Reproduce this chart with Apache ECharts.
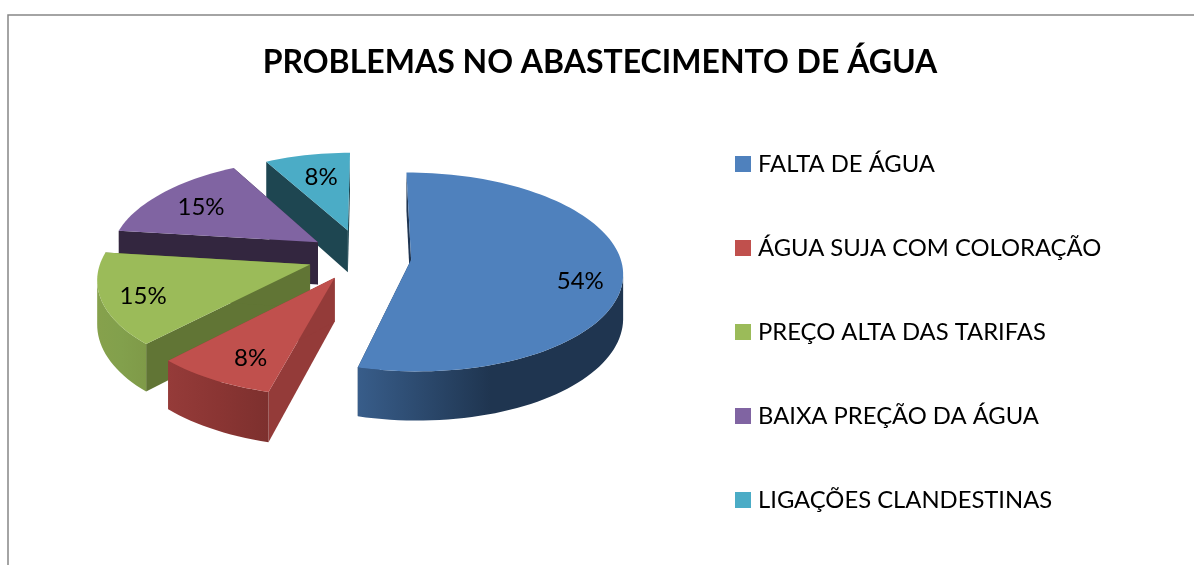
<!DOCTYPE html>
<html>
<head>
<meta charset="utf-8">
<script src="https://cdn.jsdelivr.net/npm/echarts@6/dist/echarts.min.js"></script>
<style>html,body{margin:0;background:#fff}#main{width:1194px;height:565px}</style>
</head>
<body>
<div id="main"></div>
<script>
const categories = ['FALTA DE ÁGUA', 'ÁGUA SUJA COM COLORAÇÃO', 'PREÇO ALTA DAS TARIFAS', 'BAIXA PREÇÃO DA ÁGUA', 'LIGAÇÕES CLANDESTINAS'];
const values = [54, 8, 15, 15, 8];
const topColors = ['#4F81BD', '#C0504D', '#9BBB59', '#8064A2', '#4BACC6'];
const cutColors = ['#1F3552', '#943B39', '#617535', '#33263F', '#1E4651'];
const wallStops = [['#385D8A', '#1F3550', '#1F3550'], ['#953B39', '#8A3533', '#7D302E'], ['#86A14C', '#82A04C', '#7F9A48'], ['#3E304F', '#3E304F', '#3E304F'], ['#256575', '#256575', '#256575']];

// Layout of the fake 3D pie: perspective matrix, then a small correction for each slice
const persp = [208.03, -44.86, 359.71, -0.41, 65.90, 257.25, -0.00136, -0.12163];
const explode = 0.25;
const sliceShift = [[-0.5, -0.5], [1, -1.5], [0, -1], [0.5, -1.5], [0.5, -4]];
const sliceRadius = [1, 1.01, 1, 1, 0.94];
const labelNudge = [[13, 12], [2, 8], [-14, 6], [0, 2], [6, 7]];
const wallDepth = 43;

let total = values.reduce((a, b) => a + b, 0);
let limits = [], run = 0;
values.forEach(v => { limits.push([run / total * 360, (run + v) / total * 360]); run += v; });
const rad = d => d * Math.PI / 180;

function project(s, angle, r) {
	let mid = (limits[s][0] + limits[s][1]) / 2;
	let X = explode * Math.sin(rad(mid)) + r * Math.sin(rad(angle));
	let Y = -explode * Math.cos(rad(mid)) - r * Math.cos(rad(angle));
	let w = persp[6] * X + persp[7] * Y + 1;
	return [
		(persp[0] * X + persp[1] * Y + persp[2]) / w + sliceShift[s][0],
		(persp[3] * X + persp[4] * Y + persp[5]) / w + sliceShift[s][1],
		w
	];
}
const down = q => [q[0], q[1] + wallDepth / q[2]];
const xy = q => [q[0], q[1]];

function renderSlice(s) {
	return function () {
		let [a0, a1] = limits[s];
		let apex = project(s, 0, 0);
		let arc = [], n = Math.ceil((a1 - a0) / 2);
		for (let i = 0; i <= n; i++) arc.push(project(s, a0 + (a1 - a0) * i / n, sliceRadius[s]));

		let face = q => ({ type: 'polygon', silent: true, shape: { points: [xy(apex), xy(q), down(q), down(apex)] }, style: { fill: cutColors[s] } });
		let children = [face(arc[0]), face(arc[n])];

		// only the part of the rim that runs right to left faces the viewer
		let front = arc.filter((q, i) => (arc[i + 1] && arc[i + 1][0] < q[0]) || (arc[i - 1] && q[0] < arc[i - 1][0]));
		if (front.length > 1) {
			children.push({
				type: 'polygon', silent: true,
				shape: { points: front.map(xy).concat(front.slice().reverse().map(down)) },
				style: { fill: new echarts.graphic.LinearGradient(0, 0, 1, 0, [
					{ offset: 0, color: wallStops[s][0] },
					{ offset: 0.5, color: wallStops[s][1] },
					{ offset: 1, color: wallStops[s][2] }
				]) }
			});
		}
		children.push({ type: 'polygon', silent: true, shape: { points: [xy(apex)].concat(arc.map(xy)) }, style: { fill: topColors[s] } });

		let mid = project(s, (a0 + a1) / 2, 0.74);
		children.push({
			type: 'text', silent: true,
			style: { text: values[s] + '%', x: mid[0] + labelNudge[s][0], y: mid[1] + labelNudge[s][1], align: 'center', verticalAlign: 'middle', font: '24px Lato', fill: '#000' }
		});
		return { type: 'group', children };
	};
}

let chart = echarts.init(document.getElementById('main'), null, { renderer: 'canvas' });
chart.setOption({
	animation: false,
	backgroundColor: '#fff',
	title: {
		text: 'PROBLEMAS NO ABASTECIMENTO DE ÁGUA', left: 595, top: 42, textAlign: 'center',
		textStyle: { fontFamily: 'Lato', fontWeight: 'bold', fontSize: 32, color: '#000' }
	},
	legend: {
		orient: 'vertical', left: 730, top: 147, itemWidth: 16, itemHeight: 16, itemGap: 60, icon: 'rect',
		data: categories,
		textStyle: { fontFamily: 'Lato', fontSize: 23.8, color: '#000', padding: [0, 0, 0, 2] }
	},
	graphic: [
		{ type: 'polyline', silent: true, shape: { points: [[8, 565], [8, 15], [1194, 15]] }, style: { stroke: '#868686', lineWidth: 1.5, fill: 'none' } }
	],
	series: categories.map((name, s) => ({
		type: 'custom', name, coordinateSystem: 'none', z: 5 - s, data: [values[s]],
		itemStyle: { color: topColors[s] }, renderItem: renderSlice(s)
	}))
});
</script>
</body>
</html>
